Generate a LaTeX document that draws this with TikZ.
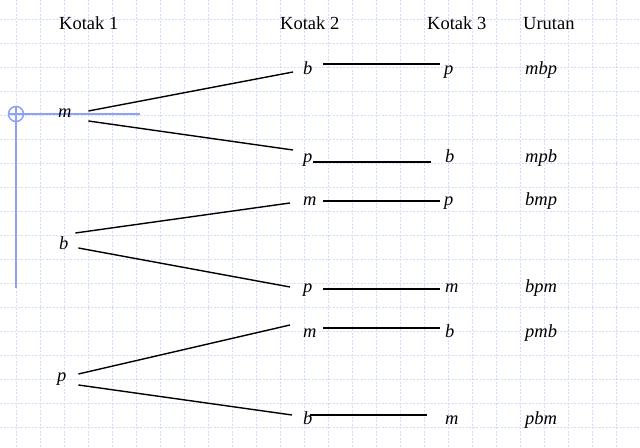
\documentclass[tikz,border=0pt]{standalone}
\usepackage{fontspec}
\setmainfont{Liberation Serif}
\definecolor{gridblue}{RGB}{212,220,252}
\definecolor{markblue}{RGB}{140,162,250}

\begin{document}
\begin{tikzpicture}[x=1bp, y=-1bp,
  huruf/.style={anchor=base west, inner sep=0pt, text height=13bp, text depth=4bp,
    text width=14bp, align=left, font=\fontsize{18.5bp}{22bp}\selectfont\itshape},
  judul/.style={anchor=base west, inner sep=0pt, font=\fontsize{18.5bp}{22bp}\selectfont},
  urutan/.style={judul, font=\fontsize{18.5bp}{22bp}\selectfont\itshape},
  cabang/.style={line width=1.4bp, black},
  garisgrid/.style={gridblue, line width=0.8bp, dash pattern=on 2bp off 1.5bp}]

				\useasboundingbox[fill=white] (0,0) rectangle (640,448);
				
				\foreach \x in {16,40,...,640} \draw[garisgrid] (\x,0) -- (\x,448);
				\foreach \y in {19,43,...,427} \draw[garisgrid] (0,\y) -- (640,\y);
				
				\draw[markblue, line width=1.5bp] (16,114) circle (7.5);
				\draw[markblue, line width=1.5bp] (8,114) -- (140,114);
				\draw[markblue, line width=2bp] (16,106) -- (16,288);
				
				\node[judul] (K1) at (59,30) {Kotak 1};
				\node[judul] (K2) at (280,30) {Kotak 2};
				\node[judul] (K3) at (427,30) {Kotak 3};
				\node[judul] (Urut) at (523,30) {Urutan};
				
				\node[huruf] (m1) at (58,118) {m};
				\node[huruf] (b1) at (59,250) {b};
				\node[huruf] (p1) at (57,381) {p};
				
				\node[huruf] (mb) at (303,75) {b};
				\node[huruf] (mp) at (303,163) {p};
				\node[huruf] (bm) at (303,206) {m};
				\node[huruf] (bp) at (303,293) {p};
				\node[huruf] (pm) at (303,337) {m};
				\node[huruf] (pb) at (303,424) {b};
				
				\node[huruf] (mbp) at (444,75) {p};
				\node[huruf] (mpb) at (445,163) {b};
				\node[huruf] (bmp) at (444,206) {p};
				\node[huruf] (bpm) at (445,293) {m};
				\node[huruf] (pmb) at (445,337) {b};
				\node[huruf] (pbm) at (445,424) {m};
				
				\node[urutan] (Umbp) at (525,75) {mbp};
				\node[urutan] (Umpb) at (525,163) {mpb};
				\node[urutan] (Ubmp) at (525,206) {bmp};
				\node[urutan] (Ubpm) at (525,293) {bpm};
				\node[urutan] (Upmb) at (525,337) {pmb};
				\node[urutan] (Upbm) at (525,424) {pbm};
				
				\draw[cabang] ([shift={(16,-2.5)}]m1.east) -- ([shift={(-10,1.5)}]mb.west);
				\draw[cabang] ([shift={(16,7.5)}]m1.east) -- ([shift={(-10,-8.5)}]mp.west);
				\draw[cabang] ([shift={(2,-12.5)}]b1.east) -- ([shift={(-13,1.5)}]bm.west);
				\draw[cabang] ([shift={(5,2.5)}]b1.east) -- ([shift={(-13,-1.5)}]bp.west);
				\draw[cabang] ([shift={(7,-2.5)}]p1.east) -- ([shift={(-13,-7.5)}]pm.west);
				\draw[cabang] ([shift={(7,8.5)}]p1.east) -- ([shift={(-11,-4.5)}]pb.west);
				
				\draw[cabang] ([shift={(6,-6.5)}]mb.east) -- ([shift={(-4,-6.5)}]mbp.west);
				\draw[cabang] ([shift={(-4,3.5)}]mp.east) -- ([shift={(-14,3.5)}]mpb.west);
				\draw[cabang] ([shift={(6,-0.5)}]bm.east) -- ([shift={(-4,-0.5)}]bmp.west);
				\draw[cabang] ([shift={(6,0.5)}]bp.east) -- ([shift={(-5,0.5)}]bpm.west);
				\draw[cabang] ([shift={(6,-4.5)}]pm.east) -- ([shift={(-5,-4.5)}]pmb.west);
				\draw[cabang] ([shift={(-7,-4.5)}]pb.east) -- ([shift={(-18,-4.5)}]pbm.west);
				
			\end{tikzpicture}
\end{document}
